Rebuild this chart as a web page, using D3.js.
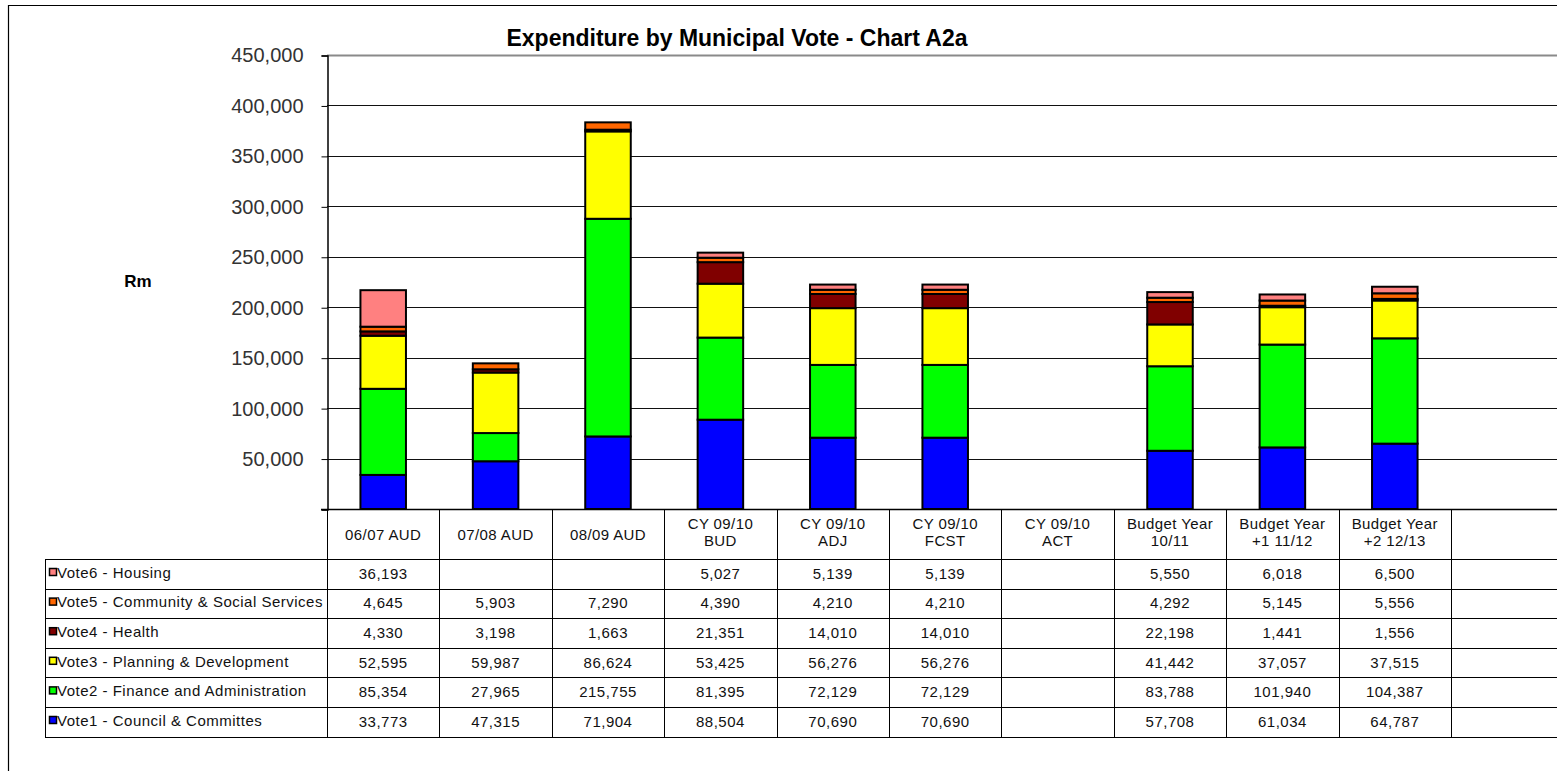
<!DOCTYPE html>
<html>
<head>
<meta charset="utf-8">
<script src="https://cdn.jsdelivr.net/npm/d3@7"></script>
<style>
  html, body { margin: 0; padding: 0; background: #fff; }
  svg { display: block; }
  text { font-family: "Liberation Sans", Arial, sans-serif; }
</style>
</head>
<body>
<svg id="chart" width="1557" height="771"></svg>
<script>
// Column headings (one entry per period; the last column is left blank)
const categories = ["06/07 AUD", "07/08 AUD", "08/09 AUD", "CY 09/10 BUD", "CY  09/10 ADJ",
  "CY 09/10 FCST", "CY 09/10 ACT", "Budget Year 10/11", "Budget Year +1 11/12", "Budget Year +2 12/13", ""];
const categoryLines = [["06/07 AUD"], ["07/08 AUD"], ["08/09 AUD"], ["CY 09/10", "BUD"], ["CY  09/10", "ADJ"],
  ["CY 09/10", "FCST"], ["CY 09/10", "ACT"], ["Budget Year", "10/11"], ["Budget Year", "+1 11/12"], ["Budget Year", "+2 12/13"], [""]];

// Series, listed bottom of the stack first
const seriesNames = ["Vote1 - Council & Committes", "Vote2 - Finance and Administration",
  "Vote3 - Planning & Development", "Vote4 - Health", "Vote5 - Community & Social Services", "Vote6 - Housing"];
const seriesColors = ["#0000FF", "#00FF00", "#FFFF00", "#800000", "#FF6600", "#FF8080"];

const vote1 = [33773, 47315, 71904, 88504, 70690, 70690, null, 57708, 61034, 64787, null];
const vote2 = [85354, 27965, 215755, 81395, 72129, 72129, null, 83788, 101940, 104387, null];
const vote3 = [52595, 59987, 86624, 53425, 56276, 56276, null, 41442, 37057, 37515, null];
const vote4 = [4330, 3198, 1663, 21351, 14010, 14010, null, 22198, 1441, 1556, null];
const vote5 = [4645, 5903, 7290, 4390, 4210, 4210, null, 4292, 5145, 5556, null];
const vote6 = [36193, null, null, 5027, 5139, 5139, null, 5550, 6018, 6500, null];
const seriesValues = [vote1, vote2, vote3, vote4, vote5, vote6];

const yTicks = [50000, 100000, 150000, 200000, 250000, 300000, 350000, 400000, 450000];

const svg = d3.select("#chart");
const fmt = d3.format(",");

// Layout
const plotLeft = 327, plotTop = 55, plotBottom = 509;
const colW = 112.4;
const x = d3.scaleBand().domain(categories.map((c, i) => i))
  .range([plotLeft, plotLeft + colW * categories.length]).paddingInner(0).paddingOuter(0);
const y = d3.scaleLinear().domain([0, 450000]).range([plotBottom, plotTop]);

// Outer frame
svg.append("path").attr("d", "M8.5,771 L8.5,5.5 L1557,5.5")
  .attr("fill", "none").attr("stroke", "#000").attr("stroke-width", 1.2);

// Title
svg.append("text").attr("x", 737).attr("y", 46).attr("text-anchor", "middle")
  .attr("font-size", 23).attr("font-weight", "bold").attr("fill", "#000")
  .attr("textLength", 461).attr("lengthAdjust", "spacingAndGlyphs")
  .text("Expenditure by Municipal Vote - Chart A2a");

// Unit label
svg.append("text").attr("x", 138).attr("y", 287).attr("text-anchor", "middle")
  .attr("font-size", 17).attr("font-weight", "bold").text("Rm");

// Gridlines
const grid = svg.append("g");
grid.selectAll("line").data(yTicks).join("line")
  .attr("x1", plotLeft).attr("x2", 1557)
  .attr("y1", d => Math.round(y(d)) + 0.5).attr("y2", d => Math.round(y(d)) + 0.5)
  .attr("stroke", d => d === 450000 ? "#8a8a8a" : "#111")
  .attr("stroke-width", d => d === 450000 ? 2 : 1);

// Y axis
const yAxis = d3.axisLeft(y).tickValues([0].concat(yTicks)).tickSize(6).tickPadding(18)
  .tickFormat(d => d === 0 ? "" : fmt(d));
const ya = svg.append("g").attr("transform", `translate(${plotLeft + 0.5},0.5)`).call(yAxis);
ya.select(".domain").attr("stroke", "#000").attr("stroke-width", 1.5);
ya.selectAll(".tick line").attr("stroke", "#000");
ya.selectAll(".tick text").attr("font-size", 20).attr("fill", "#333")
  .attr("font-family", "'Liberation Sans', Arial, sans-serif");

// Stacked bars
const rows = categories.map((c, i) => {
  const o = { idx: i };
  seriesValues.forEach((arr, s) => { o["s" + s] = arr[i] || 0; });
  return o;
});
const stack = d3.stack().keys(seriesValues.map((_, s) => "s" + s));
const stacked = stack(rows);
const barW = x.bandwidth() * 0.405;
const bars = svg.append("g");
stacked.forEach((layer, s) => {
  bars.append("g").selectAll("rect")
    .data(layer.filter((d, i) => seriesValues[s][i] != null && seriesValues[s][i] > 0))
    .join("rect")
    .attr("x", d => x(d.data.idx) + (x.bandwidth() - barW) / 2)
    .attr("width", barW)
    .attr("y", d => y(d[1]))
    .attr("height", d => y(d[0]) - y(d[1]))
    .attr("fill", seriesColors[s])
    .attr("stroke", "#000").attr("stroke-width", 2);
});

// X axis baseline
svg.append("line").attr("x1", plotLeft - 6).attr("x2", 1557)
  .attr("y1", plotBottom + 0.5).attr("y2", plotBottom + 0.5)
  .attr("stroke", "#000").attr("stroke-width", 1.5);

// Data table
const table = svg.append("g");
const legendLeft = 45;
const headerBottom = 559;
const rowH = 29.6;
const nRows = seriesNames.length;
const tableRight = plotLeft + colW * categories.length;
const cellFont = 15;

// horizontal rules
for (let r = 0; r <= nRows; r++) {
  const yy = Math.round(headerBottom + r * rowH) + 0.5;
  table.append("line").attr("x1", legendLeft).attr("x2", tableRight)
    .attr("y1", yy).attr("y2", yy).attr("stroke", "#000").attr("stroke-width", 1);
}
// vertical rules
table.append("line").attr("x1", legendLeft + 0.5).attr("x2", legendLeft + 0.5)
  .attr("y1", headerBottom).attr("y2", headerBottom + nRows * rowH + 0.5).attr("stroke", "#000");
categories.forEach((c, i) => {
  const xx = Math.round(x(i)) + 0.5;
  table.append("line").attr("x1", xx).attr("x2", xx)
    .attr("y1", plotBottom).attr("y2", headerBottom + nRows * rowH + 0.5)
    .attr("stroke", "#000").attr("stroke-width", 1);
});
table.append("line").attr("x1", Math.round(tableRight) + 0.5).attr("x2", Math.round(tableRight) + 0.5)
  .attr("y1", plotBottom).attr("y2", headerBottom + nRows * rowH).attr("stroke", "#000");

// column headings
categoryLines.forEach((lines, i) => {
  const cx = x(i) + x.bandwidth() / 2;
  const t = table.append("text").attr("text-anchor", "middle").attr("font-size", cellFont)
    .attr("letter-spacing", 0.4).attr("fill", "#111");
  if (lines.length === 1) {
    t.append("tspan").attr("x", cx).attr("y", 540).text(lines[0]);
  } else {
    t.append("tspan").attr("x", cx).attr("y", 529).text(lines[0]);
    t.append("tspan").attr("x", cx).attr("y", 546).text(lines[1]);
  }
});

// rows: top row is the last series
for (let r = 0; r < nRows; r++) {
  const s = nRows - 1 - r;
  const top = headerBottom + r * rowH;
  const cy = top + rowH / 2 + 5;
  table.append("rect").attr("x", 49.5).attr("y", top + 9.5).attr("width", 7).attr("height", 7)
    .attr("fill", seriesColors[s]).attr("stroke", "#000").attr("stroke-width", 1.5);
  table.append("text").attr("x", 57).attr("y", cy - 1).attr("font-size", cellFont)
    .attr("letter-spacing", 0.5).attr("fill", "#111")
    .text(seriesNames[s]);
  seriesValues[s].forEach((v, i) => {
    if (v == null) return;
    table.append("text").attr("x", x(i) + x.bandwidth() / 2).attr("y", cy)
      .attr("text-anchor", "middle").attr("font-size", cellFont).attr("letter-spacing", 0.5)
      .attr("fill", "#111").text(fmt(v));
  });
}
</script>
</body>
</html>
